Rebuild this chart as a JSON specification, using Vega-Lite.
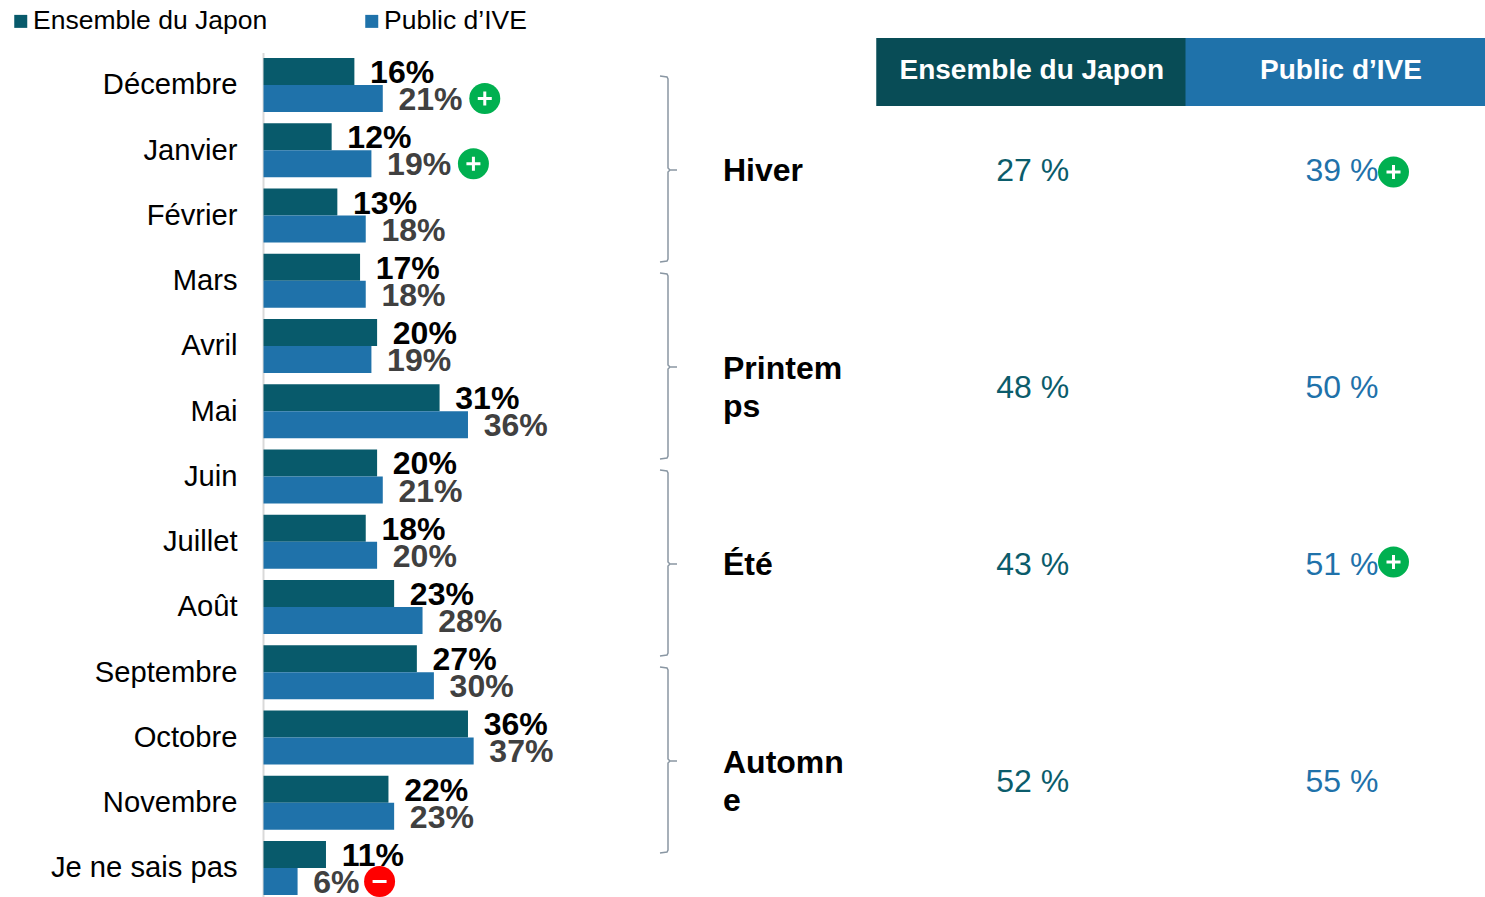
{
"$schema":"https://vega.github.io/schema/vega-lite/v6.json",
"width":1485,"height":897,"padding":0,"autosize":{"type":"none"},"background":"white",
"config":{"view":{"stroke":null},"font":"Liberation Sans","text":{"font":"Liberation Sans"}},
"datasets":{
"mois":[
{"mois":"Décembre","serie":"Ensemble du Japon","valeur":0.16,"signif":""},{"mois":"Décembre","serie":"Public d’IVE","valeur":0.21,"signif":"+"},
{"mois":"Janvier","serie":"Ensemble du Japon","valeur":0.12,"signif":""},{"mois":"Janvier","serie":"Public d’IVE","valeur":0.19,"signif":"+"},
{"mois":"Février","serie":"Ensemble du Japon","valeur":0.13,"signif":""},{"mois":"Février","serie":"Public d’IVE","valeur":0.18,"signif":""},
{"mois":"Mars","serie":"Ensemble du Japon","valeur":0.17,"signif":""},{"mois":"Mars","serie":"Public d’IVE","valeur":0.18,"signif":""},
{"mois":"Avril","serie":"Ensemble du Japon","valeur":0.20,"signif":""},{"mois":"Avril","serie":"Public d’IVE","valeur":0.19,"signif":""},
{"mois":"Mai","serie":"Ensemble du Japon","valeur":0.31,"signif":""},{"mois":"Mai","serie":"Public d’IVE","valeur":0.36,"signif":""},
{"mois":"Juin","serie":"Ensemble du Japon","valeur":0.20,"signif":""},{"mois":"Juin","serie":"Public d’IVE","valeur":0.21,"signif":""},
{"mois":"Juillet","serie":"Ensemble du Japon","valeur":0.18,"signif":""},{"mois":"Juillet","serie":"Public d’IVE","valeur":0.20,"signif":""},
{"mois":"Août","serie":"Ensemble du Japon","valeur":0.23,"signif":""},{"mois":"Août","serie":"Public d’IVE","valeur":0.28,"signif":""},
{"mois":"Septembre","serie":"Ensemble du Japon","valeur":0.27,"signif":""},{"mois":"Septembre","serie":"Public d’IVE","valeur":0.30,"signif":""},
{"mois":"Octobre","serie":"Ensemble du Japon","valeur":0.36,"signif":""},{"mois":"Octobre","serie":"Public d’IVE","valeur":0.37,"signif":""},
{"mois":"Novembre","serie":"Ensemble du Japon","valeur":0.22,"signif":""},{"mois":"Novembre","serie":"Public d’IVE","valeur":0.23,"signif":""},
{"mois":"Je ne sais pas","serie":"Ensemble du Japon","valeur":0.11,"signif":""},{"mois":"Je ne sais pas","serie":"Public d’IVE","valeur":0.06,"signif":"-"}
],
"saisons":[
{"saison":"Hiver","libelle":"Hiver","lignes":1},
{"saison":"Printemps","libelle":"Printem\nps","lignes":2},
{"saison":"Été","libelle":"Été","lignes":1},
{"saison":"Automne","libelle":"Automn\ne","lignes":2}
],
"cellules":[
{"saison":"Hiver","colonne":"Ensemble du Japon","etiquette":"27 %","lignes":1,"signif":""},
{"saison":"Hiver","colonne":"Public d’IVE","etiquette":"39 %","lignes":1,"signif":"+"},
{"saison":"Printemps","colonne":"Ensemble du Japon","etiquette":"48 %","lignes":2,"signif":""},
{"saison":"Printemps","colonne":"Public d’IVE","etiquette":"50 %","lignes":2,"signif":""},
{"saison":"Été","colonne":"Ensemble du Japon","etiquette":"43 %","lignes":1,"signif":""},
{"saison":"Été","colonne":"Public d’IVE","etiquette":"51 %","lignes":1,"signif":"+"},
{"saison":"Automne","colonne":"Ensemble du Japon","etiquette":"52 %","lignes":2,"signif":""},
{"saison":"Automne","colonne":"Public d’IVE","etiquette":"55 %","lignes":2,"signif":""}
],
"entetes":[{"colonne":"Ensemble du Japon"},{"colonne":"Public d’IVE"}]
},
"resolve":{"scale":{"x":"independent","y":"independent"}},
"layer":[
{
"data":{"name":"mois"},
"encoding":{
"x":{"field":"valeur","type":"quantitative","stack":null,"scale":{"domain":[-0.4639,2.1505],"range":[0,1485],"nice":false,"zero":false},"axis":null},
"y":{"field":"mois","type":"nominal","scale":{"domain":["Décembre","Janvier","Février","Mars","Avril","Mai","Juin","Juillet","Août","Septembre","Octobre","Novembre","Je ne sais pas"],"range":[52.4,900.6],"paddingInner":0.172,"paddingOuter":0.086},
"axis":{"title":null,"orient":"left","offset":-263,"ticks":false,"grid":false,"domain":true,"domainColor":"#d9d9d9","domainWidth":2,"labelFont":"Liberation Sans","labelFontSize":29.2,"labelColor":"#000000","labelPadding":26,"labelLimit":400,"labelOffset":0.4}},
"yOffset":{"field":"serie","type":"nominal","scale":{"domain":["Ensemble du Japon","Public d’IVE"],"paddingInner":0,"paddingOuter":0}}
},
"layer":[
{"mark":{"type":"bar","orient":"horizontal"},
"encoding":{"x2":{"datum":0},"color":{"field":"serie","type":"nominal","scale":{"domain":["Ensemble du Japon","Public d’IVE"],"range":["#085a6b","#1f72aa"]},
"legend":{"title":null,"orient":"none","legendX":7.5,"legendY":8,"direction":"horizontal","symbolType":"square","symbolSize":169,"symbolStrokeWidth":0,"symbolOpacity":1,"labelFont":"Liberation Sans","labelFontSize":26.5,"labelColor":"#000000","labelOffset":-1,"labelLimit":400,"columnPadding":91}}}},
{"mark":{"type":"text","align":"left","baseline":"middle","dx":15.7,"dy":1.5,"fontSize":32,"fontWeight":"bold"},
"encoding":{"text":{"field":"valeur","type":"quantitative","format":".0%"},"fill":{"condition":{"test":"datum.serie!=='Ensemble du Japon'","value":"#404040"},"value":"#000000"}}},
{"transform":[{"filter":"datum.signif==='+'"}],"mark":{"type":"point","shape":"circle","filled":true,"size":961,"opacity":1,"fill":"#00b050","stroke":null,"xOffset":102,"yOffset":1.5}},
{"transform":[{"filter":"datum.signif==='+'"}],"mark":{"type":"point","shape":"M-7,0H7M0,-7V7","filled":false,"size":4,"opacity":1,"stroke":"#ffffff","strokeWidth":3,"xOffset":102,"yOffset":1.5}},
{"transform":[{"filter":"datum.signif==='-'"}],"mark":{"type":"point","shape":"circle","filled":true,"size":961,"opacity":1,"fill":"#ff0000","stroke":null,"xOffset":82,"yOffset":4}},
{"transform":[{"filter":"datum.signif==='-'"}],"mark":{"type":"point","shape":"M-7,0H7","filled":false,"size":4,"opacity":1,"stroke":"#ffffff","strokeWidth":3,"xOffset":82,"yOffset":4}}
]
},
{
"layer":[
{"data":{"name":"entetes"},"mark":{"type":"point","shape":"M-156,-34H154.5V34H-156Z","filled":true,"size":4,"opacity":1,"stroke":null,"yOffset":-98},
"encoding":{"x":{"field":"colonne","type":"nominal","scale":{"type":"point","domain":["Saison","Ensemble du Japon","Public d’IVE"],"range":[723,1341.5],"padding":0},"axis":null},
"y":{"datum":"Hiver","type":"nominal","scale":{"type":"point","domain":["Hiver","Printemps","Été","Automne"],"range":[170,761],"padding":0},"axis":null},
"fill":{"condition":{"test":"datum.colonne==='Ensemble du Japon'","value":"#084c56"},"value":"#1f72aa"}}},
{"data":{"name":"entetes"},"mark":{"type":"text","align":"center","baseline":"middle","fontSize":28,"fontWeight":"bold","fill":"#ffffff","yOffset":-99,"dx":-0.5},
"encoding":{"x":{"field":"colonne","type":"nominal"},"y":{"datum":"Hiver","type":"nominal"},"text":{"field":"colonne"}}},
{"data":{"name":"saisons"},"mark":{"type":"point","shape":"M-8,-94L-1,-93L0,-91V-2L2,0H9M2,0L0,2V89L-1,91L-8,92","filled":false,"size":4,"opacity":1,"stroke":"#8a97a3","strokeWidth":1.5,"xOffset":-55},
"encoding":{"x":{"datum":"Saison","type":"nominal"},"y":{"field":"saison","type":"nominal"}}},
{"data":{"name":"saisons"},"transform":[{"filter":"datum.lignes===1"}],"mark":{"type":"text","align":"left","baseline":"middle","fontSize":32,"fontWeight":"bold","fill":"#000000","yOffset":1},
"encoding":{"x":{"datum":"Saison","type":"nominal"},"y":{"field":"saison","type":"nominal"},"text":{"field":"libelle"}}},
{"data":{"name":"saisons"},"transform":[{"filter":"datum.lignes===2"}],"mark":{"type":"text","align":"left","baseline":"middle","fontSize":32,"fontWeight":"bold","fill":"#000000","lineBreak":"\n","lineHeight":38.5,"yOffset":1.5},
"encoding":{"x":{"datum":"Saison","type":"nominal"},"y":{"field":"saison","type":"nominal"},"text":{"field":"libelle"}}},
{"data":{"name":"cellules"},"transform":[{"filter":"datum.lignes===1"}],"mark":{"type":"text","align":"center","baseline":"middle","fontSize":32,"dx":0.5,"yOffset":1},
"encoding":{"x":{"field":"colonne","type":"nominal"},"y":{"field":"saison","type":"nominal"},"text":{"field":"etiquette"},"fill":{"condition":{"test":"datum.colonne==='Ensemble du Japon'","value":"#0b5c6b"},"value":"#1f72aa"}}},
{"data":{"name":"cellules"},"transform":[{"filter":"datum.lignes===2"}],"mark":{"type":"text","align":"center","baseline":"middle","fontSize":32,"dx":0.5,"yOffset":21},
"encoding":{"x":{"field":"colonne","type":"nominal"},"y":{"field":"saison","type":"nominal"},"text":{"field":"etiquette"},"fill":{"condition":{"test":"datum.colonne==='Ensemble du Japon'","value":"#0b5c6b"},"value":"#1f72aa"}}},
{"data":{"name":"cellules"},"transform":[{"filter":"datum.signif==='+' && datum.saison==='Hiver'"}],"mark":{"type":"point","shape":"circle","filled":true,"size":961,"opacity":1,"fill":"#00b050","stroke":null,"xOffset":52,"yOffset":2},
"encoding":{"x":{"field":"colonne","type":"nominal"},"y":{"field":"saison","type":"nominal"}}},
{"data":{"name":"cellules"},"transform":[{"filter":"datum.signif==='+' && datum.saison==='Hiver'"}],"mark":{"type":"point","shape":"M-7,0H7M0,-7V7","filled":false,"size":4,"opacity":1,"stroke":"#ffffff","strokeWidth":3,"xOffset":52,"yOffset":2},
"encoding":{"x":{"field":"colonne","type":"nominal"},"y":{"field":"saison","type":"nominal"}}},
{"data":{"name":"cellules"},"transform":[{"filter":"datum.signif==='+' && datum.saison==='Été'"}],"mark":{"type":"point","shape":"circle","filled":true,"size":961,"opacity":1,"fill":"#00b050","stroke":null,"xOffset":52,"yOffset":-2},
"encoding":{"x":{"field":"colonne","type":"nominal"},"y":{"field":"saison","type":"nominal"}}},
{"data":{"name":"cellules"},"transform":[{"filter":"datum.signif==='+' && datum.saison==='Été'"}],"mark":{"type":"point","shape":"M-7,0H7M0,-7V7","filled":false,"size":4,"opacity":1,"stroke":"#ffffff","strokeWidth":3,"xOffset":52,"yOffset":-2},
"encoding":{"x":{"field":"colonne","type":"nominal"},"y":{"field":"saison","type":"nominal"}}}
]
}
]
}
